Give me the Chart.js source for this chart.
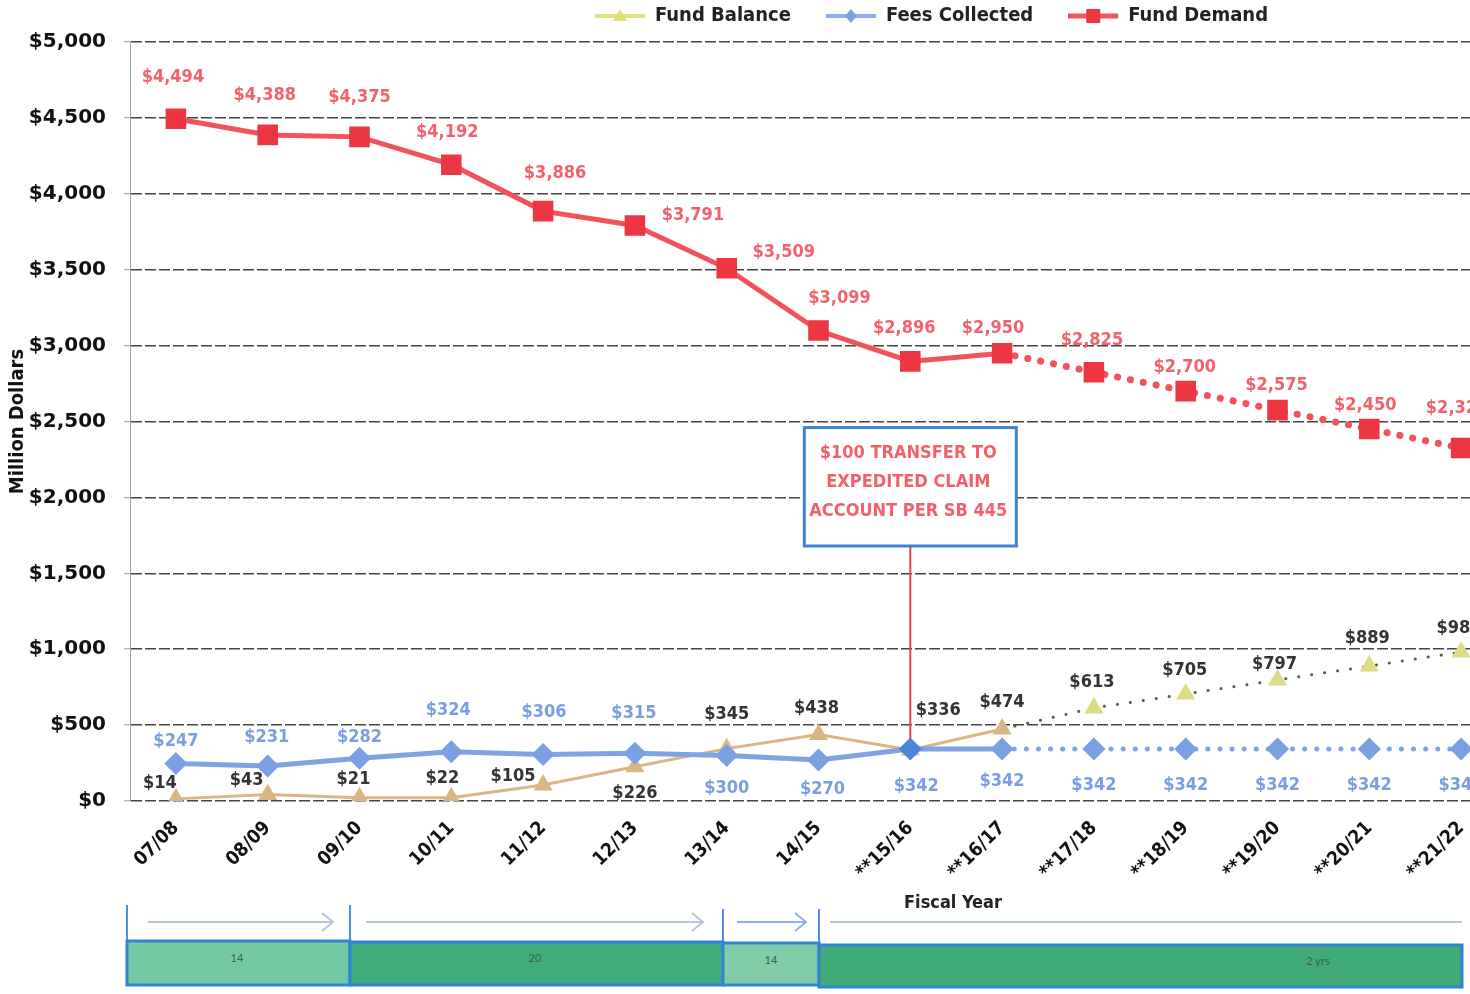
<!DOCTYPE html>
<html>
<head>
<meta charset="utf-8">
<script src="https://cdn.jsdelivr.net/npm/chart.js@4.4.1/dist/chart.umd.min.js"></script>
<style>
  html, body { margin: 0; padding: 0; background: #fff; width: 1470px; height: 994px; overflow: hidden; }
  #wrap { position: absolute; left: 0; top: 0; width: 1523px; height: 994px; }
  #wrap canvas { display: block; }
  #timeline { position: absolute; left: 0; top: 0; width: 1470px; height: 994px; pointer-events: none; }
</style>
</head>
<body>
<div id="wrap"><canvas id="chart" width="1523" height="994"></canvas></div>

<!-- phase timeline under the fiscal-year axis -->
<svg id="timeline" width="1470" height="994" xmlns="http://www.w3.org/2000/svg">
  <g stroke="#4a8fe0" stroke-width="2">
    <line x1="127" y1="905" x2="127" y2="986"/>
    <line x1="350" y1="905" x2="350" y2="986"/>
    <line x1="723" y1="909" x2="723" y2="986"/>
    <line x1="819" y1="909" x2="819" y2="986"/>
  </g>
  <g stroke="#b3c6e6" stroke-width="2" fill="none">
    <line x1="148" y1="922" x2="333" y2="922"/>
    <polyline points="322,913 333,922 322,931"/>
    <line x1="366" y1="922" x2="703" y2="922"/>
    <polyline points="692,913 703,922 692,931"/>
    <line x1="830" y1="922" x2="1462" y2="922"/>
  </g>
  <g stroke="#8fb0e8" stroke-width="2" fill="none">
    <line x1="737" y1="922" x2="806" y2="922"/>
    <polyline points="795,913 806,922 795,931"/>
  </g>
  <g stroke="#2f84d6" stroke-width="3">
    <rect x="127" y="941" width="223" height="44" fill="#74c9a3"/>
    <rect x="350" y="942" width="373" height="43" fill="#40ad79"/>
    <rect x="723" y="943" width="96" height="42" fill="#82cca8"/>
    <rect x="819" y="945" width="643" height="42" fill="#40aa78"/>
  </g>
  <g font-family="Lato, sans-serif" font-size="11" fill="#3d5f4d" text-anchor="middle">
    <text x="237" y="962">14</text>
    <text x="535" y="962">20</text>
    <text x="771" y="964">14</text>
    <text x="1318" y="965">2 yrs</text>
  </g>
</svg>

<script>
// Fiscal years (** = projected)
const fiscalYears = ['07/08', '08/09', '09/10', '10/11', '11/12', '12/13', '13/14', '14/15',
  '**15/16', '**16/17', '**17/18', '**18/19', '**19/20', '**20/21', '**21/22'];

// Million dollars
const fundBalance   = [14, 43, 21, 22, 105, 226, 345, 438, 336, 474, 613, 705, 797, 889, 981];
const feesCollected = [247, 231, 282, 324, 306, 315, 300, 270, 342, 342, 342, 342, 342, 342, 342];
const fundDemand    = [4494, 4388, 4375, 4192, 3886, 3791, 3509, 3099, 2896, 2950, 2825, 2700, 2575, 2450, 2325];

const yTicks = [0, 500, 1000, 1500, 2000, 2500, 3000, 3500, 4000, 4500, 5000];

// segments starting at this index are projections (dotted)
const projectedFrom = 9;

const RED = '#f2525c', RED_MARK = '#ec3641', RED_TEXT = '#f2626b';
const BLUE = '#80a3e4', BLUE_MARK = '#7a9fe2', BLUE_TEXT = '#7b9de2';
const TAN = '#d8b784', OLIVE = '#dcdc88', DARK = '#333333';
const CONDENSED = '"DejaVu Sans Condensed", "Liberation Sans Narrow", sans-serif';
const LABEL_FONT = 'bold 18px ' + CONDENSED;
const LEGEND_SIZE = 20;

// label offsets (dx, dy) from each point, per series
const labelNudge = {
  balance: [[-16,-16],[-21,-14],[-6,-18],[-9,-19],[-30,-9],[0,27],[0,-34],[-2,-26],[28,-40],[0,-27],[-2,-26],[-1,-24],[-3,-16],[-2,-28],[-2,-24]],
  fees:    [[0,-22],[-1,-29],[0,-21],[-3,-41],[1,-42],[-1,-40],[0,33],[4,29],[6,37],[0,32],[0,36],[0,36],[0,36],[0,36],[0,36]],
  demand:  [[-3,-41],[-3,-40],[0,-40],[-4,-32],[12,-38],[58,-10],[57,-16],[21,-32],[-6,-33],[-9,-25],[-2,-32],[-1,-24],[-1,-25],[-4,-24],[-4,-40]]
};

const money = v => '$' + v.toLocaleString('en-US');

// legend swatches: a short line with the series marker in the middle
function swatch(lineColor, lineWidth, draw) {
  const cv = document.createElement('canvas');
  cv.width = 50; cv.height = 20;
  const g = cv.getContext('2d');
  g.strokeStyle = lineColor; g.lineWidth = lineWidth;
  g.beginPath(); g.moveTo(0, 10); g.lineTo(50, 10); g.stroke();
  draw(g);
  return cv;
}
const legendIcons = [
  swatch('#e2e27e', 4, g => { g.fillStyle = '#e0e070'; g.beginPath(); g.moveTo(25, 3); g.lineTo(32, 15); g.lineTo(18, 15); g.closePath(); g.fill(); }),
  swatch('#8db0e8', 4, g => { g.fillStyle = '#7da2e2'; g.beginPath(); g.moveTo(25, 3); g.lineTo(31, 10); g.lineTo(25, 17); g.lineTo(19, 10); g.closePath(); g.fill(); }),
  swatch('#f2545e', 5, g => { g.fillStyle = '#ec3641'; g.fillRect(18, 3, 14, 14); })
];

const valueLabels = {
  id: 'valueLabels',
  afterDatasetsDraw(chart) {
    const ctx = chart.ctx;
    chart.data.datasets.forEach((ds, di) => {
      const meta = chart.getDatasetMeta(di);
      const nudge = labelNudge[ds.key];
      ctx.save();
      ctx.font = LABEL_FONT;
      ctx.fillStyle = ds.labelColor;
      ctx.textAlign = 'center';
      ctx.textBaseline = 'middle';
      meta.data.forEach((pt, i) => {
        const [dx, dy] = nudge[i];
        ctx.fillText(money(ds.data[i]), pt.x + dx, pt.y + dy);
      });
      ctx.restore();
    });
  }
};

// callout for the SB 445 transfer, tied to the 15/16 fees point
const transferNote = {
  category: 8, top: 2460, bottom: 1680, halfWidth: 106,
  lines: ['$100 TRANSFER TO', 'EXPEDITED CLAIM', 'ACCOUNT PER SB 445']
};
const callout = {
  id: 'callout',
  beforeDatasetsDraw(chart) {
    const { ctx, scales: { x, y } } = chart;
    const cx = x.getPixelForValue(transferNote.category);
    const feesMeta = chart.getDatasetMeta(1);
    const yTop = y.getPixelForValue(transferNote.top);
    const yBot = y.getPixelForValue(transferNote.bottom);
    ctx.save();
    ctx.strokeStyle = '#e24452';
    ctx.lineWidth = 2;
    ctx.beginPath();
    ctx.moveTo(cx, yBot);
    ctx.lineTo(cx, feesMeta.data[transferNote.category].y);
    ctx.stroke();
    ctx.fillStyle = '#fff';
    ctx.fillRect(cx - transferNote.halfWidth, yTop, transferNote.halfWidth * 2, yBot - yTop);
    ctx.strokeStyle = '#3f83cc';
    ctx.lineWidth = 3;
    ctx.strokeRect(cx - transferNote.halfWidth, yTop, transferNote.halfWidth * 2, yBot - yTop);
    ctx.fillStyle = '#f2606a';
    ctx.font = 'bold 18px ' + CONDENSED;
    ctx.textAlign = 'center';
    ctx.textBaseline = 'middle';
    const mid = (yTop + yBot) / 2;
    transferNote.lines.forEach((t, i) => ctx.fillText(t, cx - 2, mid + (i - 1) * 29 - 4));
    ctx.restore();
  },
  afterDraw(chart) {
    const ctx = chart.ctx;
    ctx.save();
    ctx.fillStyle = '#222';
    ctx.font = 'bold 18px ' + CONDENSED;
    ctx.textAlign = 'center';
    ctx.textBaseline = 'middle';
    ctx.fillText('Fiscal Year', 953, 903);
    ctx.restore();
  }
};

// fixed legend band height and placement
const legendPlacement = {
  id: 'legendPlacement',
  beforeInit(chart) {
    const lg = chart.legend;
    const fit = lg.fit;
    lg.fit = function () { fit.call(this); this.height = 42; };
  },
  afterUpdate(chart) {
    const lg = chart.legend;
    const pad = lg.options.labels.padding;
    lg.left = 595 - pad;
    lg.right = 1523;
    lg.top = 16 - LEGEND_SIZE / 2 - pad;
    lg.adjustHitBoxes();
  }
};

new Chart(document.getElementById('chart'), {
  type: 'line',
  data: {
    labels: fiscalYears,
    datasets: [
      {
        key: 'balance', label: 'Fund Balance', data: fundBalance, order: 1,
        labelColor: DARK,
        borderColor: TAN, borderWidth: 3, borderCapStyle: 'round',
        segment: {
          borderDash: c => c.p0DataIndex >= projectedFrom ? [0.1, 13] : undefined,
          borderColor: c => c.p0DataIndex >= projectedFrom ? '#5c5c48' : undefined
        },
        pointStyle: 'triangle', pointRadius: 8,
        pointBackgroundColor: c => c.dataIndex > projectedFrom ? OLIVE : TAN,
        pointBorderColor: c => c.dataIndex > projectedFrom ? OLIVE : TAN
      },
      {
        key: 'fees', label: 'Fees Collected', data: feesCollected, order: 0,
        labelColor: BLUE_TEXT,
        borderColor: BLUE, borderWidth: 5, borderCapStyle: 'round',
        segment: {
          borderDash: c => c.p0DataIndex >= projectedFrom ? [0.1, 12] : undefined
        },
        pointStyle: 'rectRot', pointRadius: 8,
        pointBackgroundColor: c => c.dataIndex === 8 ? '#4d86d8' : BLUE_MARK,
        pointBorderColor: c => c.dataIndex === 8 ? '#4d86d8' : BLUE_MARK
      },
      {
        key: 'demand', label: 'Fund Demand', data: fundDemand, order: 2,
        labelColor: RED_TEXT,
        borderColor: RED, borderWidth: 5, borderCapStyle: 'round',
        segment: {
          borderDash: c => c.p0DataIndex >= projectedFrom ? [0.1, 13] : undefined,
          borderWidth: c => c.p0DataIndex >= projectedFrom ? 7 : undefined
        },
        pointStyle: 'rect', pointRadius: 11,
        pointBackgroundColor: RED_MARK, pointBorderColor: RED_MARK
      }
    ]
  },
  options: {
    responsive: false,
    animation: false,
    devicePixelRatio: 1,
    layout: { padding: 0 },
    plugins: {
      tooltip: { enabled: false },
      legend: {
        display: true,
        position: 'top',
        align: 'start',
        labels: {
          usePointStyle: true,
          pointStyleWidth: 50,
          padding: 35,
          color: '#222',
          font: { family: CONDENSED, weight: 'bold', size: LEGEND_SIZE },
          generateLabels: chart => chart.data.datasets.map((ds, i) => ({
            text: ds.label, pointStyle: legendIcons[i], datasetIndex: i,
            fillStyle: 'transparent', strokeStyle: 'transparent', lineWidth: 0,
            fontColor: '#222', hidden: false
          }))
        }
      }
    },
    scales: {
      x: {
        type: 'category',
        offset: true,
        grid: { display: false, drawTicks: false },
        border: { display: false },
        ticks: {
          minRotation: 45, maxRotation: 45, autoSkip: false, padding: 16,
          color: '#111',
          font: { family: CONDENSED, weight: 'bold', size: 19 }
        },
        afterFit: s => { s.height = 193; }
      },
      y: {
        min: 0, max: 5000,
        afterBuildTicks: s => { s.ticks = yTicks.map(v => ({ value: v })); },
        grid: { color: '#444', lineWidth: 1.5, tickLength: 6, tickColor: '#999', tickWidth: 1 },
        border: { display: true, color: '#a0a0a0', width: 1, dash: [11, 3] },
        ticks: {
          padding: 18, color: '#111',
          font: { family: '"DejaVu Sans", sans-serif', weight: 'bold', size: 20 },
          callback: v => money(v)
        },
        title: {
          display: true, text: 'Million Dollars', color: '#111',
          padding: { top: 6, bottom: 0 },
          font: { family: CONDENSED, weight: 'bold', size: 20 }
        },
        afterFit: s => { s.width = 130; }
      }
    }
  },
  plugins: [legendPlacement, callout, valueLabels]
});
</script>
</body>
</html>
